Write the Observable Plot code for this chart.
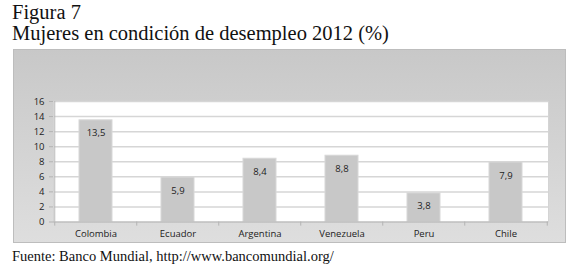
<!DOCTYPE html>
<html>
<head>
<meta charset="utf-8">
<script src="https://cdn.jsdelivr.net/npm/d3@7"></script>
<script src="https://cdn.jsdelivr.net/npm/@observablehq/plot@0.6"></script>
<style>
  body { margin: 0; background: #fff; width: 580px; height: 271px; position: relative; overflow: hidden; }
  .title { position: absolute; left: 12px; font-family: "Liberation Serif", "DejaVu Serif", serif; color: #111; white-space: nowrap; }
  #t1 { top: 1px; font-size: 20.5px; }
  #t2 { top: 22px; font-size: 20.5px; }
  #src { position: absolute; left: 12px; top: 248px; font-family: "Liberation Serif", serif; font-size: 14.5px; color: #111; white-space: nowrap; }
  #chart { position: absolute; left: 13px; top: 49px; }
  #chart svg { display: block; }
</style>
</head>
<body>
<div class="title" id="t1">Figura 7</div>
<div class="title" id="t2">Mujeres en condición de desempleo 2012 (%)</div>
<div id="chart"></div>
<div id="src">Fuente: Banco Mundial, http://www.bancomundial.org/</div>
<script>
const countries = ["Colombia", "Ecuador", "Argentina", "Venezuela", "Peru", "Chile"];
const values = [13.5, 5.9, 8.4, 8.8, 3.8, 7.9];
const yTicks = [0, 2, 4, 6, 8, 10, 12, 14, 16];

const data = countries.map((c, i) => ({country: c, value: values[i]}));
const W = 553, H = 194, mL = 40, mR = 18;
const step = (W - mL - mR) / countries.length;
const fmt = v => v.toFixed(1).replace(".", ",");

const chart = Plot.plot({
  width: W,
  height: H,
  marginLeft: mL,
  marginRight: mR,
  marginTop: 52,
  marginBottom: 21.5,
  style: {
    fontFamily: "'Open Sans', 'Noto Sans', sans-serif",
    fontSize: "9px",
    color: "#222",
    background: "linear-gradient(to bottom, #c8c8c8, #dedede)",
    outline: "1px solid #bdbdbd",
    outlineOffset: "-1px"
  },
  x: {domain: countries, paddingInner: 0.6, paddingOuter: 0.3, align: 0.5, label: null},
  y: {domain: [0, 16], label: null},
  marks: [
    Plot.frame({fill: "white", stroke: "#d4d4d4"}),
    Plot.ruleY(yTicks.filter(d => d > 0), {stroke: "#d6d6d6", strokeWidth: 1.5}),
    Plot.barY(data, {x: "country", y: "value", fill: "#c8c8c8", stroke: "#d8d8d8", strokeWidth: 1}),
    Plot.text(data, {x: "country", y: "value", text: d => fmt(d.value), dy: 13, fill: "#222", fontSize: 9.5}),
    Plot.ruleY([0], {stroke: "#b3b3b3", strokeWidth: 1}),
    Plot.ruleX([0], {x: () => countries[0], dx: -step / 2, y1: 0, y2: 16, stroke: "#b8b8b8"}),
    Plot.ruleX(countries, {x: d => d, dx: -step / 2, y1: 0, y2: -0.55, stroke: "#b3b3b3"}),
    Plot.ruleX([countries[countries.length - 1]], {x: d => d, dx: step / 2, y1: 0, y2: -0.55, stroke: "#b3b3b3"}),
    Plot.axisY(yTicks, {tickSize: 4, tickPadding: 5, stroke: "#b3b3b3", fill: "#222", fontSize: 9.5}),
    Plot.axisX({tickSize: 0, tickPadding: 8, fill: "#222", fontSize: 9.5})
  ]
});
document.getElementById("chart").appendChild(chart);
</script>
</body>
</html>
